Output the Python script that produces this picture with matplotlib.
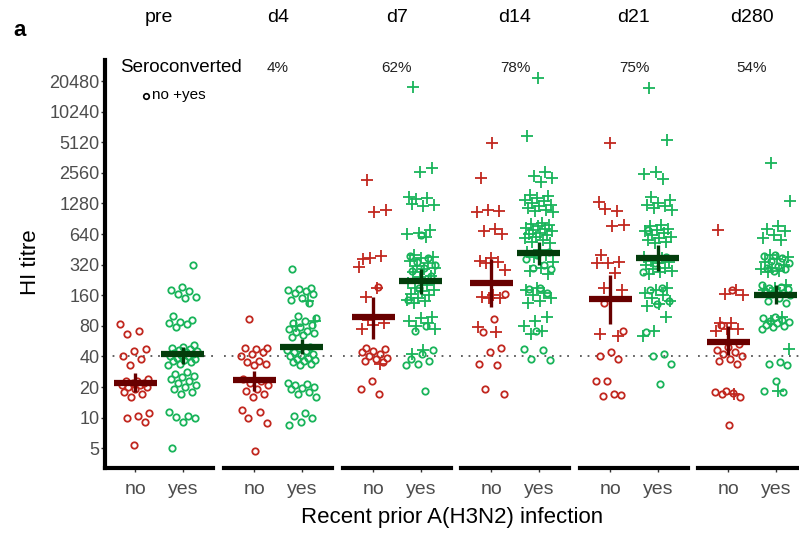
import matplotlib
matplotlib.use("Agg")
import matplotlib.pyplot as plt
from matplotlib.lines import Line2D

plt.rcParams['font.family'] = ['Liberation Sans', 'DejaVu Sans']

# facets and categories
days = ["pre", "d4", "d7", "d14", "d21", "d280"]
groups = ["no", "yes"]
sero_pct = ["", "4%", "62%", "78%", "75%", "54%"]
yticks = [5, 10, 20, 40, 80, 160, 320, 640, 1280, 2560, 5120, 10240, 20480]

# HI titres, split by recent infection (no / yes) and seroconversion (o = no, x = yes)
pre_no_o = [84, 72, 66, 47, 45, 40, 38, 33, 24, 23, 23, 22, 22, 21, 21, 20, 20, 19, 18, 17, 16, 11, 10.5, 10, 9, 5.4]
pre_no_x = []
pre_yes_o = [320, 195, 180, 175, 165, 155, 150, 100, 92, 88, 85, 83, 78, 52, 50, 48, 47, 46, 45, 44, 43, 42, 41,
             40, 40, 39, 38, 37, 36, 35, 34, 33, 28, 27, 26, 25, 24, 23, 22, 21, 20, 19, 18, 17, 11.5, 10.5, 10.2,
             10, 9, 5]
pre_yes_x = []

d4_no_o = [94, 48, 47, 48, 44, 42, 40, 36, 35, 34, 33, 24, 23, 22, 21, 19, 18.5, 17, 16, 12, 11.5, 10, 8.8, 4.7]
d4_no_x = []
d4_yes_o = [293, 190, 185, 180, 175, 170, 165, 150, 145, 133, 100, 95, 90, 85, 82, 78, 75, 72, 70, 68, 65, 62,
            50, 48, 46, 45, 44, 42, 41, 40, 39, 38, 37, 36, 35, 34, 33, 22, 21.5, 21, 20, 19.5, 19, 18, 17, 16,
            11, 10.5, 10, 9, 8.5]
d4_yes_x = [140, 80, 90]

d7_no_o = [192, 48, 47, 45, 44, 42, 40, 39, 38, 36, 35, 23, 19, 17]
d7_no_x = [2185, 1116, 1060, 360, 390, 370, 305, 190, 154, 85, 81, 75, 34, 92]
d7_yes_o = [620, 390, 370, 340, 320, 300, 280, 250, 190, 145, 80, 72, 46, 42, 38, 36, 34, 33, 18.5]
d7_yes_x = [17900, 2840, 2640, 1480, 1450, 1420, 1240, 1200, 1260, 700, 660, 640, 600, 400, 380, 370, 350, 330,
            310, 300, 290, 270, 250, 240, 210, 200, 190, 180, 175, 165, 160, 150, 145, 140, 135, 98, 95, 90, 85,
            80, 75, 46, 42]

d14_no_o = [165, 94, 70, 48, 44, 34, 33, 19, 17]
d14_no_x = [5020, 2300, 1080, 1100, 1050, 710, 680, 640, 370, 350, 340, 330, 285, 160, 155, 150, 150, 78, 70]
d14_yes_o = [430, 400, 360, 320, 300, 290, 190, 185, 170, 72, 47, 46, 38, 37]
d14_yes_x = [22000, 5930, 2600, 2400, 2300, 2100, 1560, 1500, 1450, 1400, 1350, 1300, 1250, 1200, 1150, 1100,
             1080, 1050, 820, 800, 780, 760, 740, 720, 700, 680, 660, 640, 620, 600, 580, 560, 540, 520, 450,
             430, 400, 380, 340, 300, 280, 260, 190, 180, 170, 160, 150, 140, 133, 98, 90, 80, 72, 67]

d21_no_o = [135, 71, 44, 40, 38, 23, 23, 17.2, 16.5, 16.9]
d21_no_x = [5060, 1330, 1080, 1120, 790, 760, 395, 340, 335, 330, 265, 190, 180, 140, 67, 64]
d21_yes_o = [700, 380, 330, 270, 190, 180, 140, 130, 70, 42, 40, 34, 21.5]
d21_yes_x = [17600, 5340, 2630, 2500, 2250, 1480, 1400, 1300, 1250, 1200, 1150, 1100, 780, 760, 720, 700, 680,
             650, 620, 600, 580, 560, 540, 520, 380, 370, 350, 340, 330, 320, 300, 290, 280, 270, 260, 190, 180,
             170, 160, 150, 140, 130, 125, 98, 72, 64]

d280_no_o = [182, 81, 53, 50, 46, 44, 42, 40, 38, 36, 34, 18.5, 18, 17.5, 17, 16, 8.4]
d280_no_x = [700, 182, 165, 160, 85, 85, 75, 75, 72, 17]
d280_yes_o = [400, 390, 370, 350, 330, 310, 300, 290, 280, 200, 195, 190, 185, 180, 175, 170, 165, 160, 150,
              140, 133, 98, 95, 92, 90, 88, 85, 82, 80, 78, 75, 35, 34, 33, 23, 18.5, 18]
d280_yes_x = [3190, 1360, 760, 720, 680, 620, 580, 560, 400, 380, 360, 340, 320, 300, 290, 280, 270, 200, 190,
              180, 98, 90, 47, 18.5]

# geometric means with 95% CI: [no, yes]
gmean = [[22, 42], [23.5, 50], [98, 220], [213, 419], [148, 376], [56, 162]]
ci_lo = [[17.8, 34], [18.5, 42], [59, 165], [122, 315], [84, 280], [41, 130]]
ci_hi = [[27.4, 49.5], [29, 59], [154, 290], [360, 535], [256, 500], [79, 200]]

no_o = [pre_no_o, d4_no_o, d7_no_o, d14_no_o, d21_no_o, d280_no_o]
no_x = [pre_no_x, d4_no_x, d7_no_x, d14_no_x, d21_no_x, d280_no_x]
yes_o = [pre_yes_o, d4_yes_o, d7_yes_o, d14_yes_o, d21_yes_o, d280_yes_o]
yes_x = [pre_yes_x, d4_yes_x, d7_yes_x, d14_yes_x, d21_yes_x, d280_yes_x]

pt_col = ["#C1271F", "#19B45A"]
mean_col = ["#680000", "#033D0C"]

W, H = 799, 539
fig = plt.figure(figsize=(W / 100, H / 100), dpi=100)

panel_left = [105, 224, 343, 461, 580, 698]
panel_w = 108
top_px, bot_px = 60, 468


def jit(n, k):
    # deterministic horizontal spread for the points of one group
    return [(((i + k) * 0.618034) % 1 - 0.5) * 0.62 for i in range(n)]


for d, day in enumerate(days):
    ax = fig.add_axes([panel_left[d] / W, 1 - bot_px / H, panel_w / W, (bot_px - top_px) / H])
    ax.set_yscale("log", base=2)
    ax.set_ylim(3.2, 33000)
    ax.set_xlim(-0.636, 1.636)
    ax.axhline(40, color="#555555", ls=(0, (1, 3.2)), lw=1.3, zorder=1)

    for g in range(2):
        circ = [no_o, yes_o][g][d]
        plus = [no_x, yes_x][g][d]
        vals = circ + plus
        offs = jit(len(vals), d * 7 + g * 3)
        xs = [g + o for o in offs]
        nc = len(circ)
        if nc:
            ax.plot(xs[:nc], circ, ls="none", marker="o", ms=4.6, mfc="none", mec=pt_col[g], mew=1.3, zorder=2)
        if plus:
            ax.plot(xs[nc:], plus, ls="none", marker="+", ms=8, mec=pt_col[g], mew=1.3, zorder=2)
        ax.plot([g - 0.45, g + 0.45], [gmean[d][g]] * 2, color=mean_col[g], lw=4.5,
                solid_capstyle="butt", zorder=4)
        ax.plot([g, g], [ci_lo[d][g], ci_hi[d][g]], color=mean_col[g], lw=2.4,
                solid_capstyle="butt", zorder=4)

    for s in ["top", "right"]:
        ax.spines[s].set_visible(False)
    ax.spines["bottom"].set_linewidth(3)
    ax.spines["left"].set_linewidth(3)
    ax.set_xticks([0, 1])
    ax.set_xticklabels(groups, fontsize=14, color="#4D4D4D")
    ax.tick_params(axis="x", length=3, width=1, color="#333333", pad=6)
    if d == 0:
        ax.set_yticks(yticks)
        ax.set_yticklabels([str(t) for t in yticks], fontsize=13, color="#4D4D4D")
        ax.tick_params(axis="y", which="major", length=3, width=1, color="#333333", pad=1)
        ax.tick_params(axis="y", which="minor", left=False)
    else:
        ax.spines["left"].set_visible(False)
        ax.set_yticks([])
        ax.tick_params(axis="y", which="both", left=False, labelleft=False)

    cx = (panel_left[d] + panel_w / 2) / W
    fig.text(cx, 1 - 18 / H, day, ha="center", va="center", fontsize=14)
    if sero_pct[d]:
        fig.text(cx, 1 - 68 / H, sero_pct[d], ha="center", va="center", fontsize=11, color="#222222")

fig.text(120 / W, 1 - 68 / H, "Seroconverted", ha="left", va="center", fontsize=13.5)
fig.add_artist(Line2D([146 / W], [1 - 96 / H], marker="o", ms=4, mfc="none", mec="black", mew=1.2,
                      transform=fig.transFigure))
fig.text(152 / W, 1 - 95 / H, "no +yes", ha="left", va="center", fontsize=11)

fig.text(20 / W, 1 - 31 / H, "a", ha="center", va="center", fontsize=16, fontweight="bold")
fig.text(30 / W, 1 - 262 / H, "HI titre", ha="center", va="center", fontsize=16, rotation=90)
fig.text(452 / W, 1 - 517 / H, "Recent prior A(H3N2) infection", ha="center", va="center", fontsize=16)

fig.savefig("out.png", dpi=100)
